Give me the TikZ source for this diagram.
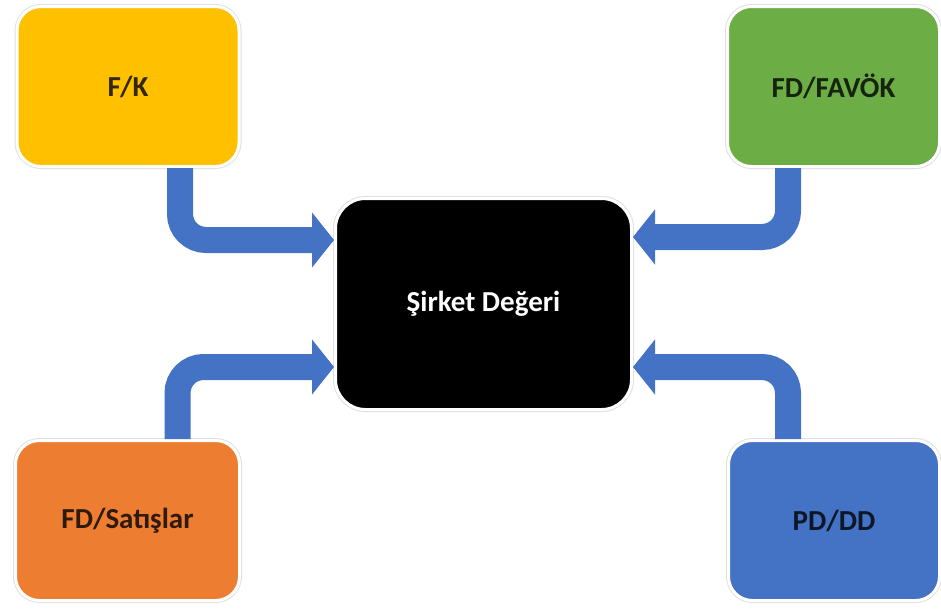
\documentclass[tikz,border=0pt]{standalone}
\usepackage{fontspec}
\setmainfont{Carlito}
\usetikzlibrary{arrows.meta}
\definecolor{fkyellow}{HTML}{FFC000}
\definecolor{fdgreen}{HTML}{6DAD45}
\definecolor{fdorange}{HTML}{ED7D31}
\definecolor{pdblue}{HTML}{4472C4}
\definecolor{flowblue}{HTML}{4472C4}
\tikzset{
  ratiobox/.style={rounded corners=24pt, draw=white, line width=3pt,
    preaction={draw=black!12, line width=5pt},
    minimum width=222pt, minimum height=160pt, inner sep=0pt,
    font=\fontsize{29}{34}\selectfont\bfseries},
  flow/.style={draw=flowblue, line width=26pt, rounded corners=26pt,
    -{Triangle[length=22pt,width=54pt]}}
}
\begin{document}
\begin{tikzpicture}[x=1pt, y=-1pt]
			\useasboundingbox (0,0) rectangle (941,608);
			
			% Sirket Degeri
			\node[rounded corners=30pt, fill=black, draw=white, line width=3pt,
			  preaction={draw=black!12, line width=5pt},
			  minimum width=296pt, minimum height=211pt,
			  text=white, font=\fontsize{29}{34}\selectfont\bfseries] (deger) at (483.5,304) {Şirket Değeri};
			
			% F/K
			\node[ratiobox, fill=fkyellow, text=fkyellow!20!black] (fk) at (128,86.5) {F/K};
			
			% FD/FAVOK
			\node[ratiobox, fill=fdgreen, text=fdgreen!20!black, minimum width=212pt] (favok) at (833.5,86.5) {FD/FAVÖK};
			
			% FD/Satislar
			\node[ratiobox, fill=fdorange, text=fdorange!20!black, minimum width=224pt] (satis) at (127.5,520.5) {FD/Satışlar};
			
			% PD/DD
			\node[ratiobox, fill=pdblue, text=pdblue!20!black, minimum width=211pt] (pddd) at (834,520.5) {PD/DD};
			
			% arrows into the centre
			\draw[flow] ([xshift=52pt]fk.south) |- ([yshift=64pt]deger.west);
			\draw[flow] ([xshift=-45.5pt]favok.south) |- ([yshift=67pt]deger.east);
			\draw[flow] ([xshift=50pt]satis.north) |- ([yshift=-63pt]deger.west);
			\draw[flow] ([xshift=-46pt]pddd.north) |- ([yshift=-63pt]deger.east);
			
		\end{tikzpicture}
\end{document}
